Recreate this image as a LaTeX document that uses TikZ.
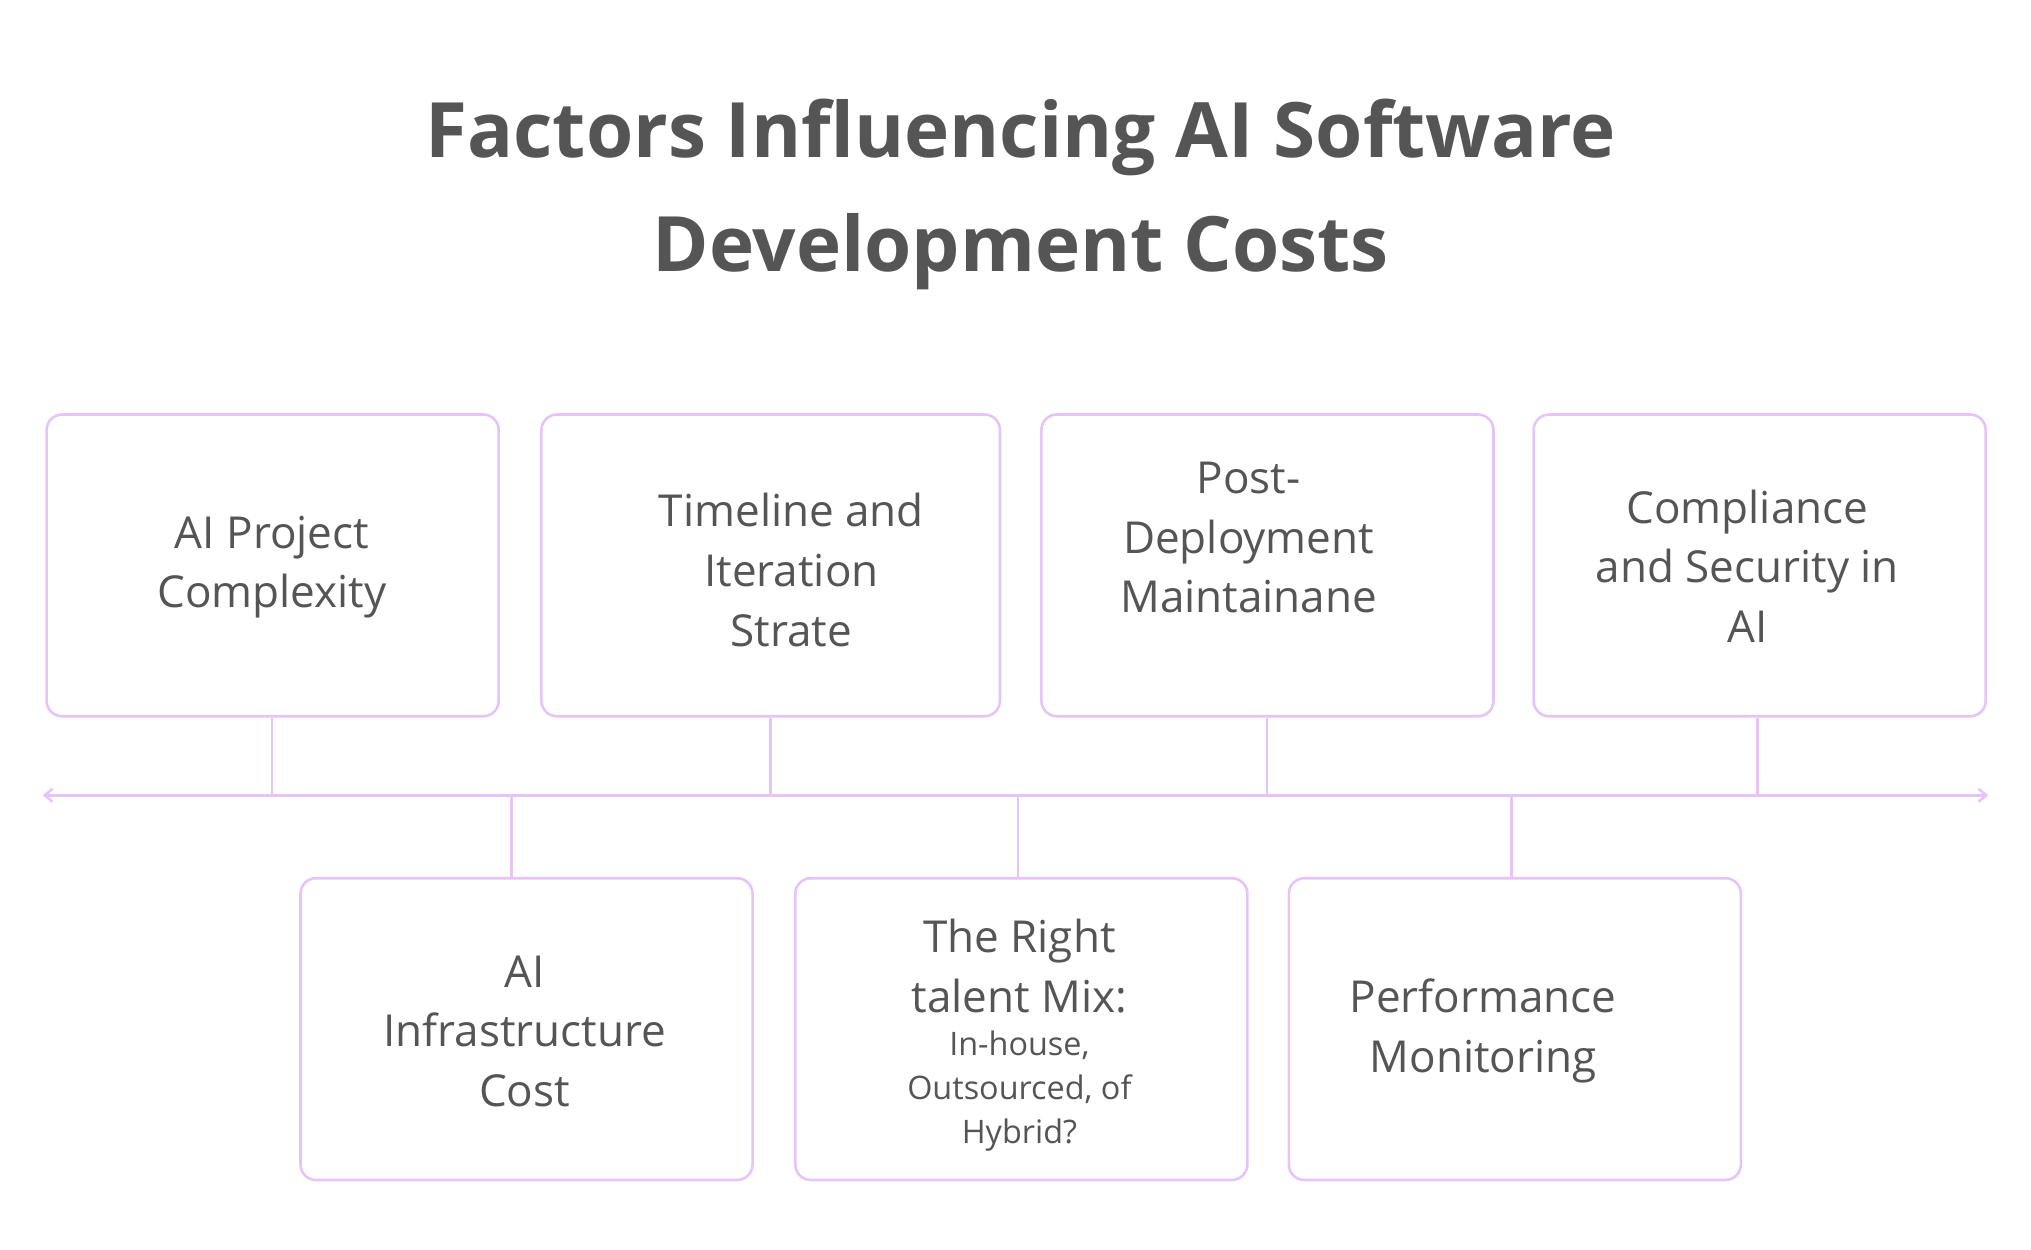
\documentclass[tikz,border=0pt]{standalone}
\usepackage{fontspec}
\setmainfont{Open Sans}
\usetikzlibrary{arrows.meta}
\definecolor{bd}{HTML}{E6C4F7}
\definecolor{tx}{HTML}{555555}
\begin{document}
\begin{tikzpicture}[x=1pt,y=-1pt,
  boxs/.style={draw=bd,line width=2pt,rounded corners=12pt,minimum width=349pt,minimum height=233pt,anchor=north west},
  lbl/.style={text=tx,font=\fontsize{34}{46}\selectfont,align=center,anchor=center},
  conn/.style={draw=bd,line width=2pt}]
\useasboundingbox (0,0) rectangle (1568,965);
\node[text=tx,font=\bfseries\fontsize{59}{88}\selectfont,align=center] (title) at (788,150) {Factors Influencing AI Software\\Development Costs};
\node[boxs] (t1) at (35,319) {};
\node[boxs,minimum width=354pt] (t2) at (417,319) {};
\node[boxs] (t3) at (803,319) {};
\node[boxs] (t4) at (1183,319) {};
\node[boxs] (b1) at (231,677) {};
\node[boxs] (b2) at (613,677) {};
\node[boxs] (b3) at (994,677) {};
\node[lbl] at (210,438) {AI Project\\Complexity};
\node[lbl] at (611,440) {Timeline and\\Iteration\\Strate};
\node[lbl] at (964,415) {Post-\\Deployment\\Maintainane};
\node[lbl] at (1349,437) {Compliance\\and Security in\\AI};
\node[lbl] at (405,796) {AI\\Infrastructure\\Cost};
\node[lbl] at (787,746) {The Right\\talent Mix:};
\node[text=tx,font=\fontsize{25}{34}\selectfont,align=center] at (787,842) {In-house,\\Outsourced, of\\Hybrid?};
\node[lbl] at (1145,796) {Performance\\Monitoring};
\coordinate (L) at (33,614);
\coordinate (R) at (1535,614);
\draw[conn,{Straight Barb[length=6pt,width=10pt]}-{Straight Barb[length=6pt,width=10pt]}] (L) -- (R);
\foreach \n/\x in {t1/210,t2/595,t3/978,t4/1357}{
  \draw[conn] (\n.south -| \x,0) -- (\x,614);}
\foreach \n/\x in {b1/395,b2/786,b3/1167}{
  \draw[conn] (\x,614) -- (\n.north -| \x,0);}
\end{tikzpicture}
\end{document}
